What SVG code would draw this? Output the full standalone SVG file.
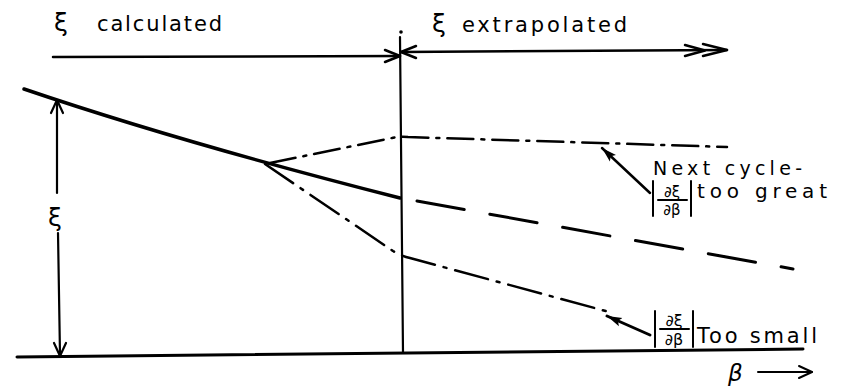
<svg xmlns="http://www.w3.org/2000/svg" width="851" height="388" viewBox="0 0 851 388">
<style>
.ln{fill:none;stroke:#000;stroke-linecap:round;stroke-linejoin:round}
.t{font-family:"DejaVu Sans","Liberation Sans",sans-serif;fill:#000}
.dd{stroke-dasharray:26 8 3 8}
</style>
<defs>
<marker id="ah" markerWidth="16" markerHeight="10" refX="15" refY="5" orient="auto" markerUnits="userSpaceOnUse">
<path d="M0,0.5 L15,5 L0,9.5 L3,5 Z" fill="#000"/>
</marker>
</defs>
<rect width="851" height="388" fill="#fff"/>

<g id="axes">
<path class="ln" d="M17,357 L803,349" stroke-width="3"/>
<path class="ln" d="M400,37 L403,352" stroke-width="2.2"/>
<circle cx="401" cy="32" r="1.8" fill="#000"/>
</g>

<g id="connectors">
<!-- top calculated arrow -->
<path class="ln" d="M53,57 L400,56" stroke-width="2.5"/>
<path class="ln" d="M385,50 L400,56 L385,62" stroke-width="2.5"/>
<!-- top extrapolated arrow -->
<path class="ln" d="M401,52 L727,50" stroke-width="2.5"/>
<path class="ln" d="M416,46 L401,52 L416,58" stroke-width="2.5"/>
<path class="ln" d="M685,45 L705,50.5 L685,56" stroke-width="2.5"/>
<path class="ln" d="M703,44 L727,50 L703,56" stroke-width="2.5"/>
<!-- xi dimension arrow -->
<path class="ln" d="M57,100 L57,193" stroke-width="2.2"/>
<path class="ln" d="M58,233 L60,355" stroke-width="2.2"/>
<path class="ln" d="M51,113 L57,100 L63,113" stroke-width="2.2"/>
<path class="ln" d="M54,343 L60,356 L66,343" stroke-width="2.2"/>
<!-- curves -->
<path class="ln" d="M24,89 Q180,142 400,198" stroke-width="3.5"/>
<path class="ln" d="M417,201 L793,269" stroke-width="3" stroke-dasharray="48 26"/>
<path class="ln dd" d="M270,163 L392,138 Q400,136 408,137 L727,147" stroke-width="2.5"/>
<path class="ln" d="M265,164 L393,251 Q401,256 410,258 L613,313" stroke-width="2.5" stroke-dasharray="34 9 3 9"/>
<!-- pointer arrows -->
<path class="ln" d="M650,193 L602,148" stroke-width="2.5" marker-end="url(#ah)"/>
<path class="ln" d="M650,335 L607,316" stroke-width="3" marker-end="url(#ah)"/>
<!-- beta arrow -->
<path class="ln" d="M758,372 L812,372" stroke-width="2"/>
<path class="ln" d="M799,366 L812,372 L799,378" stroke-width="2"/>
</g>

<g id="label-calculated">
<text class="t" x="54" y="31" font-size="25">ξ</text>
<text class="t" x="97" y="31" font-size="21" textLength="125" lengthAdjust="spacing">calculated</text>
</g>
<g id="label-extrapolated">
<text class="t" x="432" y="32" font-size="25">ξ</text>
<text class="t" x="462" y="32" font-size="21" textLength="165" lengthAdjust="spacing">extrapolated</text>
</g>
<g id="label-xi">
<text class="t" x="48" y="226" font-size="25">ξ</text>
</g>
<g id="label-too-great">
<text class="t" x="653" y="175" font-size="19" textLength="149" lengthAdjust="spacing">Next cycle-</text>
<path class="ln" d="M653,181 L653,216 M691,181 L691,216 M658,200 L687,200" stroke-width="2"/>
<text class="t" x="672" y="197" font-size="15" text-anchor="middle">∂ξ</text>
<text class="t" x="672" y="215" font-size="15" text-anchor="middle">∂β</text>
<text class="t" x="697" y="198" font-size="20" textLength="130" lengthAdjust="spacing">too great</text>
</g>
<g id="label-too-small">
<path class="ln" d="M655,311 L655,347 M693,311 L693,347 M660,329 L689,329" stroke-width="2"/>
<text class="t" x="674" y="326" font-size="16" text-anchor="middle">∂ξ</text>
<text class="t" x="674" y="345" font-size="16" text-anchor="middle">∂β</text>
<text class="t" x="697" y="343" font-size="21" textLength="120" lengthAdjust="spacing">Too small</text>
</g>
<g id="label-beta">
<text class="t" x="728" y="381" font-size="23" font-style="italic">β</text>
</g>
</svg>
